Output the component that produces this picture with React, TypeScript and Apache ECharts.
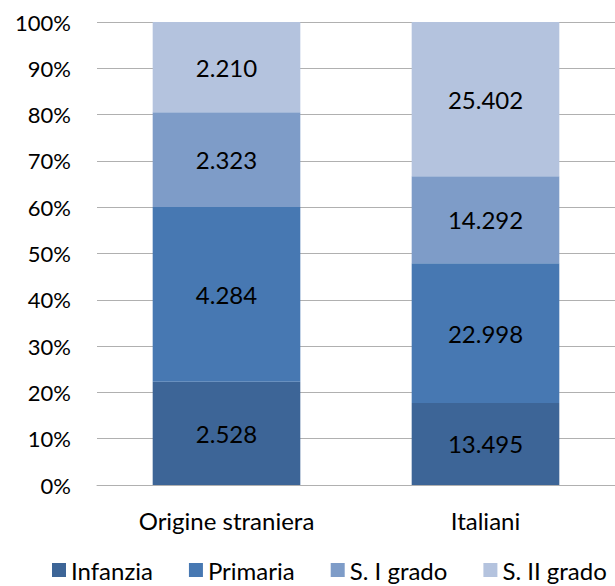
import React, { useEffect, useRef } from "react";
import * as echarts from "echarts";

const categories = ["Origine straniera", "Italiani"];
const seriesNames = ["Infanzia", "Primaria", "S. I grado", "S. II grado"];
const infanzia = [2528, 13495];
const primaria = [4284, 22998];
const sIGrado = [2323, 14292];
const sIIGrado = [2210, 25402];
const colors = ["#3d6597", "#4778b2", "#7e9cc8", "#b4c3de"];
const yTicks = [0, 10, 20, 30, 40, 50, 60, 70, 80, 90, 100];

const FONT = "Lato, 'Open Sans', sans-serif";

function fmt(n: number): string {
  return String(n).replace(/\B(?=(\d{3})+(?!\d))/g, ".");
}

export default function App() {
  const ref = useRef<HTMLDivElement>(null);
  useEffect(() => {
    if (!ref.current) return;
    const chart = echarts.init(ref.current, undefined, { renderer: "svg" });
    const raw = [infanzia, primaria, sIGrado, sIIGrado];
    const totals = categories.map((_, i) => raw.reduce((s, arr) => s + arr[i], 0));
    chart.setOption({
      animation: false,
      color: colors,
      grid: { left: 97, right: 0, top: 22, bottom: 101, containLabel: false },
      legend: {
        top: 553,
        left: 47,
        icon: "rect",
        itemWidth: 14,
        itemHeight: 14,
        itemGap: 36,
        textStyle: { fontFamily: FONT, fontSize: 24, lineHeight: 24, color: "#000" },
        data: seriesNames,
      },
      xAxis: {
        type: "category",
        data: categories,
        axisTick: { show: false },
        axisLine: { lineStyle: { color: "#b0b0b0", width: 1 } },
        axisLabel: { fontFamily: FONT, fontSize: 24, color: "#000", margin: 23 },
      },
      yAxis: {
        type: "value",
        min: yTicks[0],
        max: yTicks[yTicks.length - 1],
        interval: 10,
        axisLine: { show: false },
        axisTick: { show: false },
        splitLine: { lineStyle: { color: "#b0b0b0", width: 1 } },
        axisLabel: {
          fontFamily: FONT,
          fontSize: 22,
          color: "#000",
          margin: 26,
          formatter: "{value}%",
        },
      },
      series: seriesNames.map((name, si) => ({
        name,
        type: "bar",
        stack: "total",
        barWidth: "57%",
        data: raw[si].map((v, i) => ({ value: (v / totals[i]) * 100, raw: v })),
        label: {
          show: true,
          position: "inside",
          fontFamily: FONT,
          fontSize: 24,
          color: "#000",
          formatter: (p: any) => fmt(p.data.raw),
        },
      })),
    });
    return () => chart.dispose();
  }, []);
  return (
    <div
      ref={ref}
      style={{ position: "fixed", left: 0, top: 0, width: 615, height: 586, background: "#fff" }}
    />
  );
}
